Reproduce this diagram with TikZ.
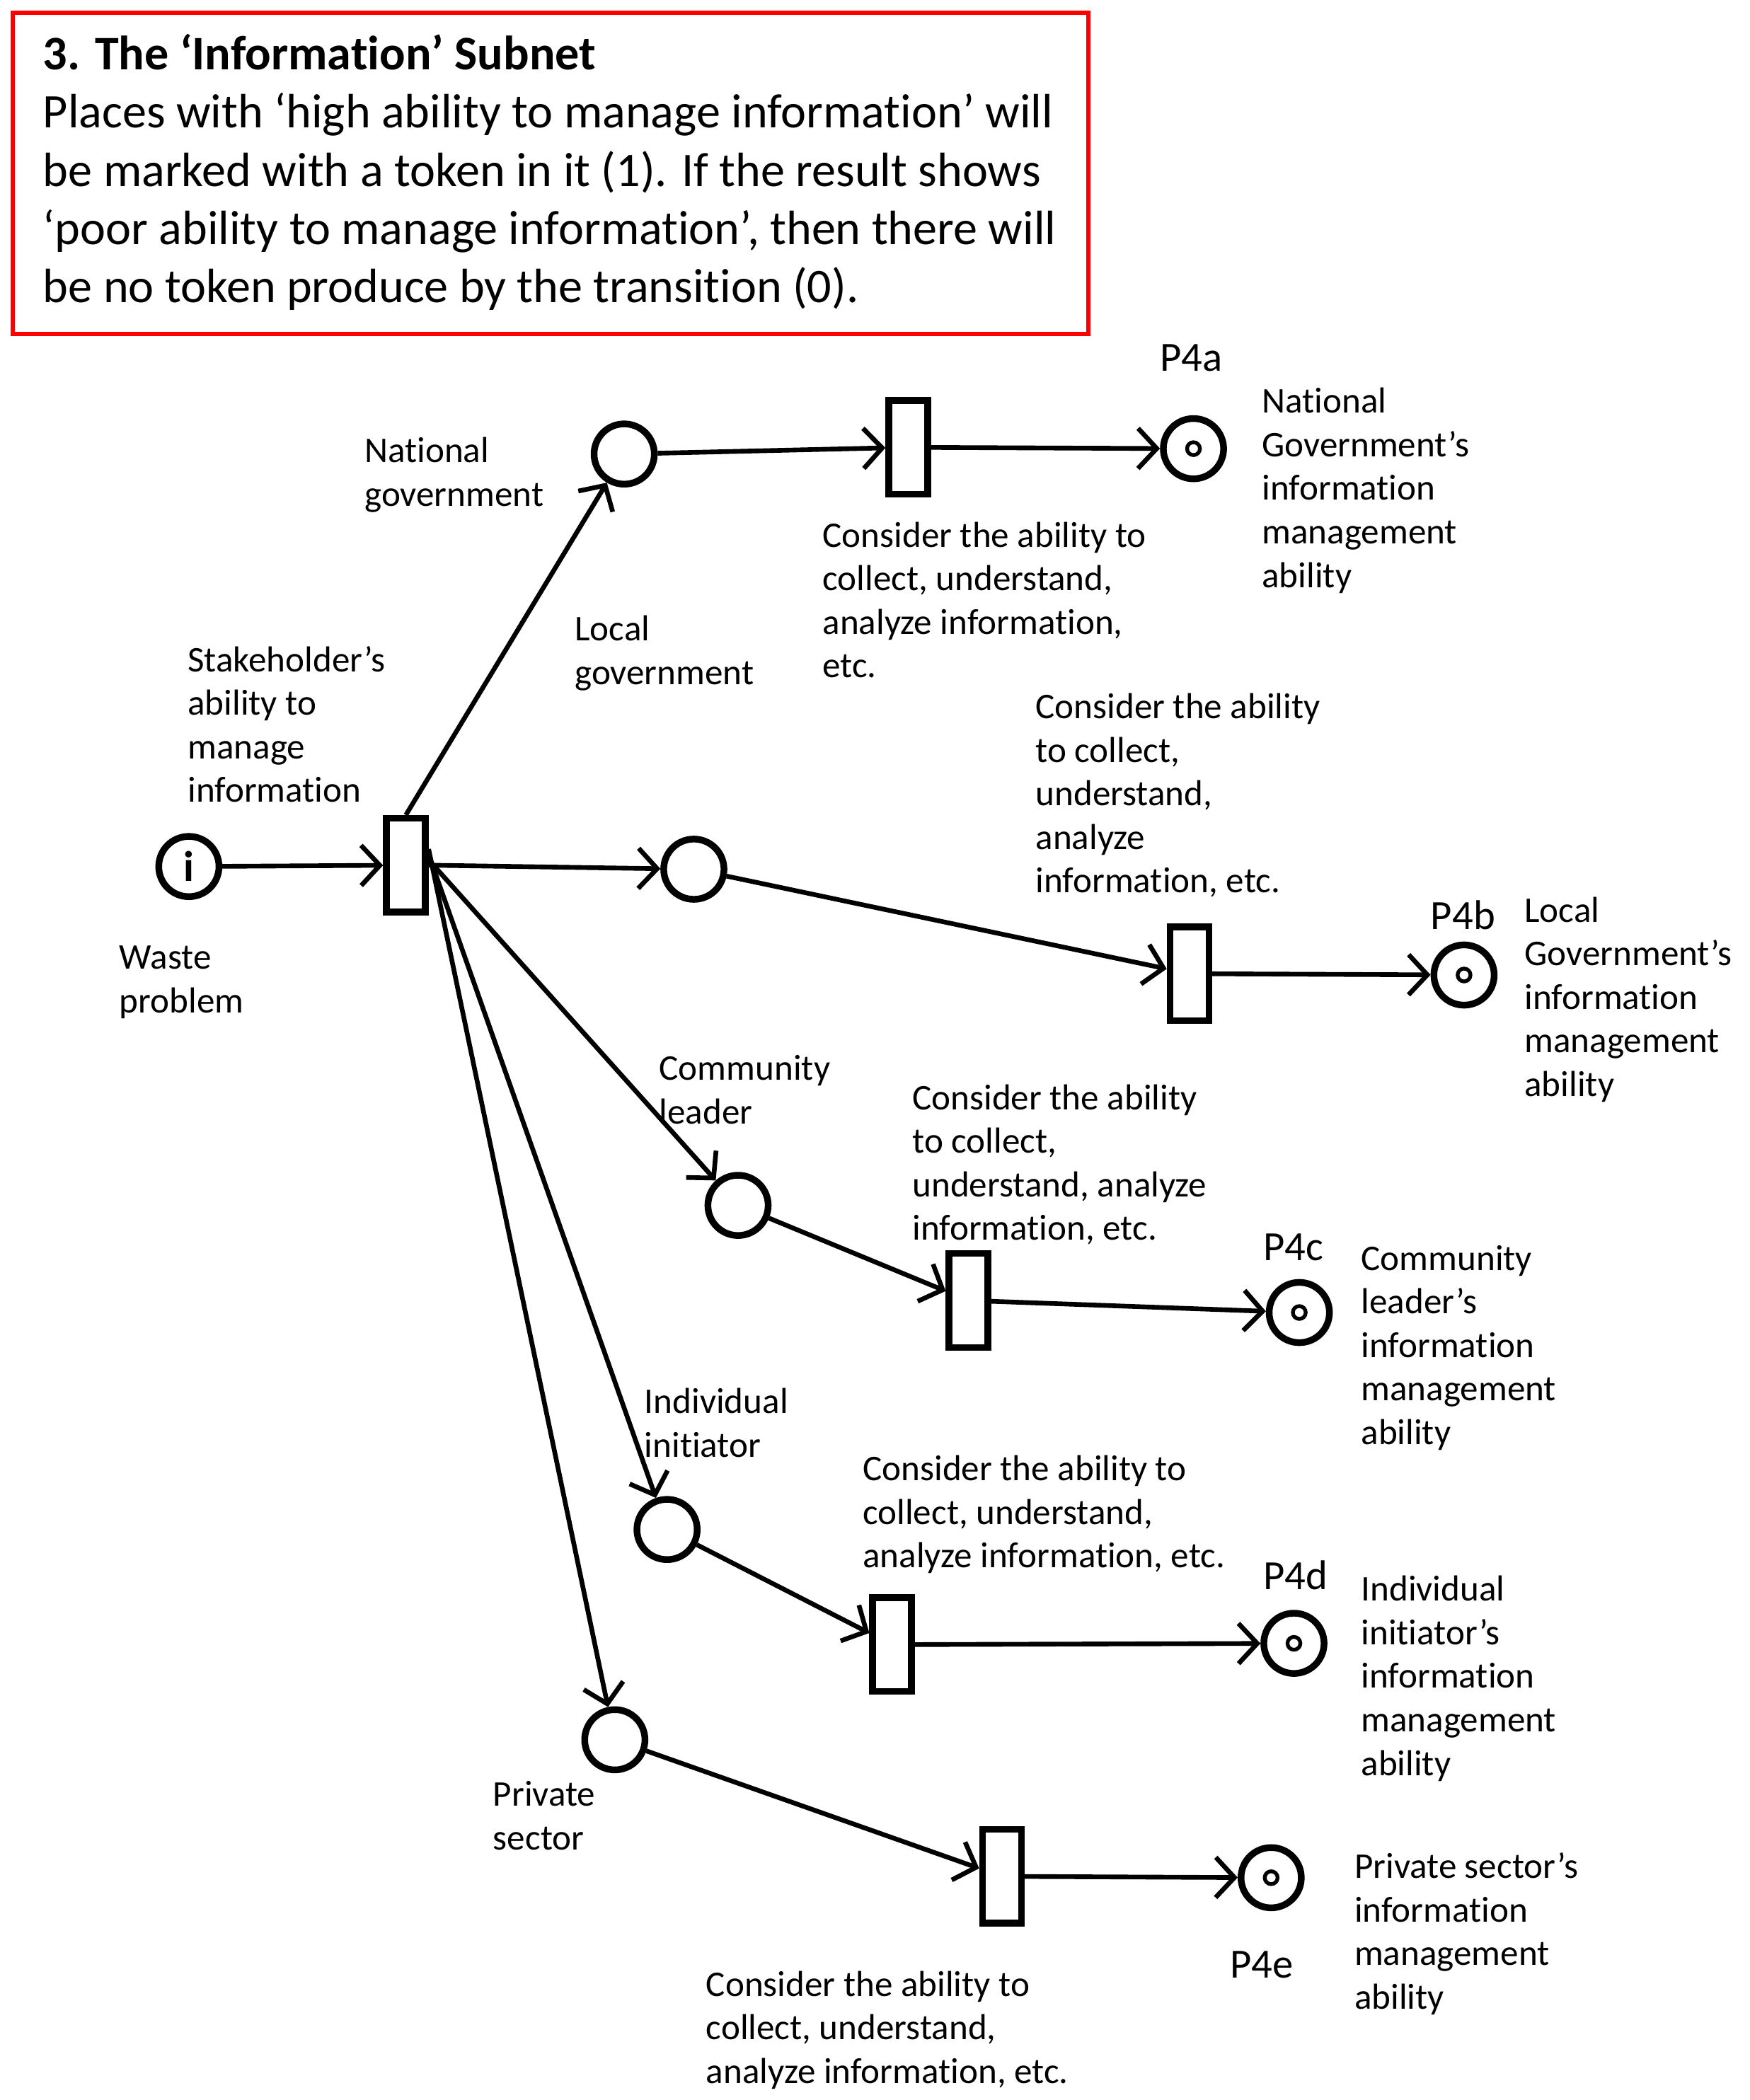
\documentclass[tikz,border=0pt]{standalone}
\usepackage{fontspec}
\setmainfont{Carlito}[Ligatures=NoCommon]
\usetikzlibrary{arrows.meta}
\begin{document}
\begin{tikzpicture}[x=1pt,y=-1pt,
  place/.style={circle,draw,line width=5pt,minimum size=45pt,inner sep=0pt},
  trans/.style={rectangle,draw,line width=5pt,minimum width=29pt,minimum height=70pt,inner sep=0pt},
  arc/.style={line width=3.5pt,-{Straight Barb[length=14pt,width=30pt]}},
  lab/.style={font=\fontsize{27}{32.5}\selectfont,align=left,inner sep=0pt,anchor=base west},
  plab/.style={font=\fontsize{31}{32.5}\selectfont,inner sep=0pt,anchor=base west},
  titlebox/.style={draw=red,line width=3pt,minimum width=803pt,minimum height=240pt,anchor=north west,inner sep=0pt},
  titletext/.style={font=\fontsize{36}{43.5}\selectfont,align=left,inner sep=0pt,anchor=base west}]
\useasboundingbox (0,0) rectangle (1306,1568);

% title box
\node[titlebox] (box) at (8,8) {};
\node[titletext] (title) at (32,226) {\textbf{3. The ‘Information’ Subnet}\\
Places with ‘high ability to manage information’ will\\
be marked with a token in it (1). If the result shows\\
‘poor ability to manage information’, then there will\\
be no token produce by the transition (0).};

% places and transitions
\node[place,font=\fontsize{32}{32}\selectfont\bfseries] (pi) at (141,647) {i};
\node[trans] (t0) at (303,646) {};
\node[place] (png) at (466,339) {};
\node[trans] (t1) at (678,334) {};
\node[place] (p4a) at (891,335) {};
\node[place] (plg) at (518,649) {};
\node[trans] (t2) at (888,727) {};
\node[place] (p4b) at (1093,728) {};
\node[place] (pcl) at (551,900) {};
\node[trans] (t3) at (723,971) {};
\node[place] (p4c) at (970,980) {};
\node[place] (pii) at (498,1142) {};
\node[trans] (t4) at (666,1228) {};
\node[place] (p4d) at (966,1227) {};
\node[place] (pps) at (459,1299) {};
\node[trans] (t5) at (748,1401) {};
\node[place] (p4e) at (949,1402) {};

% tokens
\foreach \p in {p4a,p4b,p4c,p4d,p4e}
  \draw[line width=2.8pt] (\p.center) circle (4.8);

% arcs
\draw[arc] (pi) -- (t0);
\draw[arc] (t0.north) -- (png);
\draw[arc] (t0.east) -- (plg);
\draw[arc] ([yshift=4pt]t0.east) -- (pcl);
\draw[arc] ([yshift=8pt]t0.east) -- (pii);
\draw[arc] ([yshift=12pt]t0.east) -- (pps);
\draw[arc] (png) -- (t1);
\draw[arc] (plg) -- (t2);
\draw[arc] (pcl) -- (t3);
\draw[arc] (pii) -- (t4);
\draw[arc] (pps) -- (t5);
\draw[arc] (t1) -- (p4a);
\draw[arc] (t2) -- (p4b);
\draw[arc] (t3) -- (p4c);
\draw[arc] (t4) -- (p4d);
\draw[arc] (t5) -- (p4e);

% labels (anchored at baseline of last line)
\node[lab] (lng) at (272,378) {National\\government};
\node[lab] (llg) at (429,511) {Local\\government};
\node[lab] (lsk) at (140,599) {Stakeholder’s\\ability to\\manage\\information};
\node[lab] (lwp) at (89,756) {Waste\\problem};
\node[lab] (lc1) at (614,506) {Consider the ability to\\collect, understand,\\analyze information,\\etc.};
\node[plab] (l4a) at (866,277) {P4a};
\node[lab] (lo1) at (942,438.5) {National\\Government’s\\information\\management\\ability};
\node[lab] (lc2) at (773,666.5) {Consider the ability\\to collect,\\understand,\\analyze\\information, etc.};
\node[plab] (l4b) at (1068,694) {P4b};
\node[lab] (lo2) at (1138,818.5) {Local\\Government’s\\information\\management\\ability};
\node[lab] (lcl) at (492,839) {Community\\leader};
\node[lab] (lc3) at (681,926) {Consider the ability\\to collect,\\understand, analyze\\information, etc.};
\node[plab] (l4c) at (943,941) {P4c};
\node[lab] (lo3) at (1016,1078.5) {Community\\leader’s\\information\\management\\ability};
\node[lab] (lii) at (481,1088) {Individual\\initiator};
\node[lab] (lc4) at (644,1170.5) {Consider the ability to\\collect, understand,\\analyze information, etc.};
\node[plab] (l4d) at (943,1187) {P4d};
\node[lab] (lo4) at (1016,1325.5) {Individual\\initiator’s\\information\\management\\ability};
\node[lab] (lps) at (368,1381) {Private\\sector};
\node[plab] (l4e) at (918,1477) {P4e};
\node[lab] (lo5) at (1011,1500) {Private sector’s\\information\\management\\ability};
\node[lab] (lc5) at (527,1555.5) {Consider the ability to\\collect, understand,\\analyze information, etc.};
\end{tikzpicture}
\end{document}
